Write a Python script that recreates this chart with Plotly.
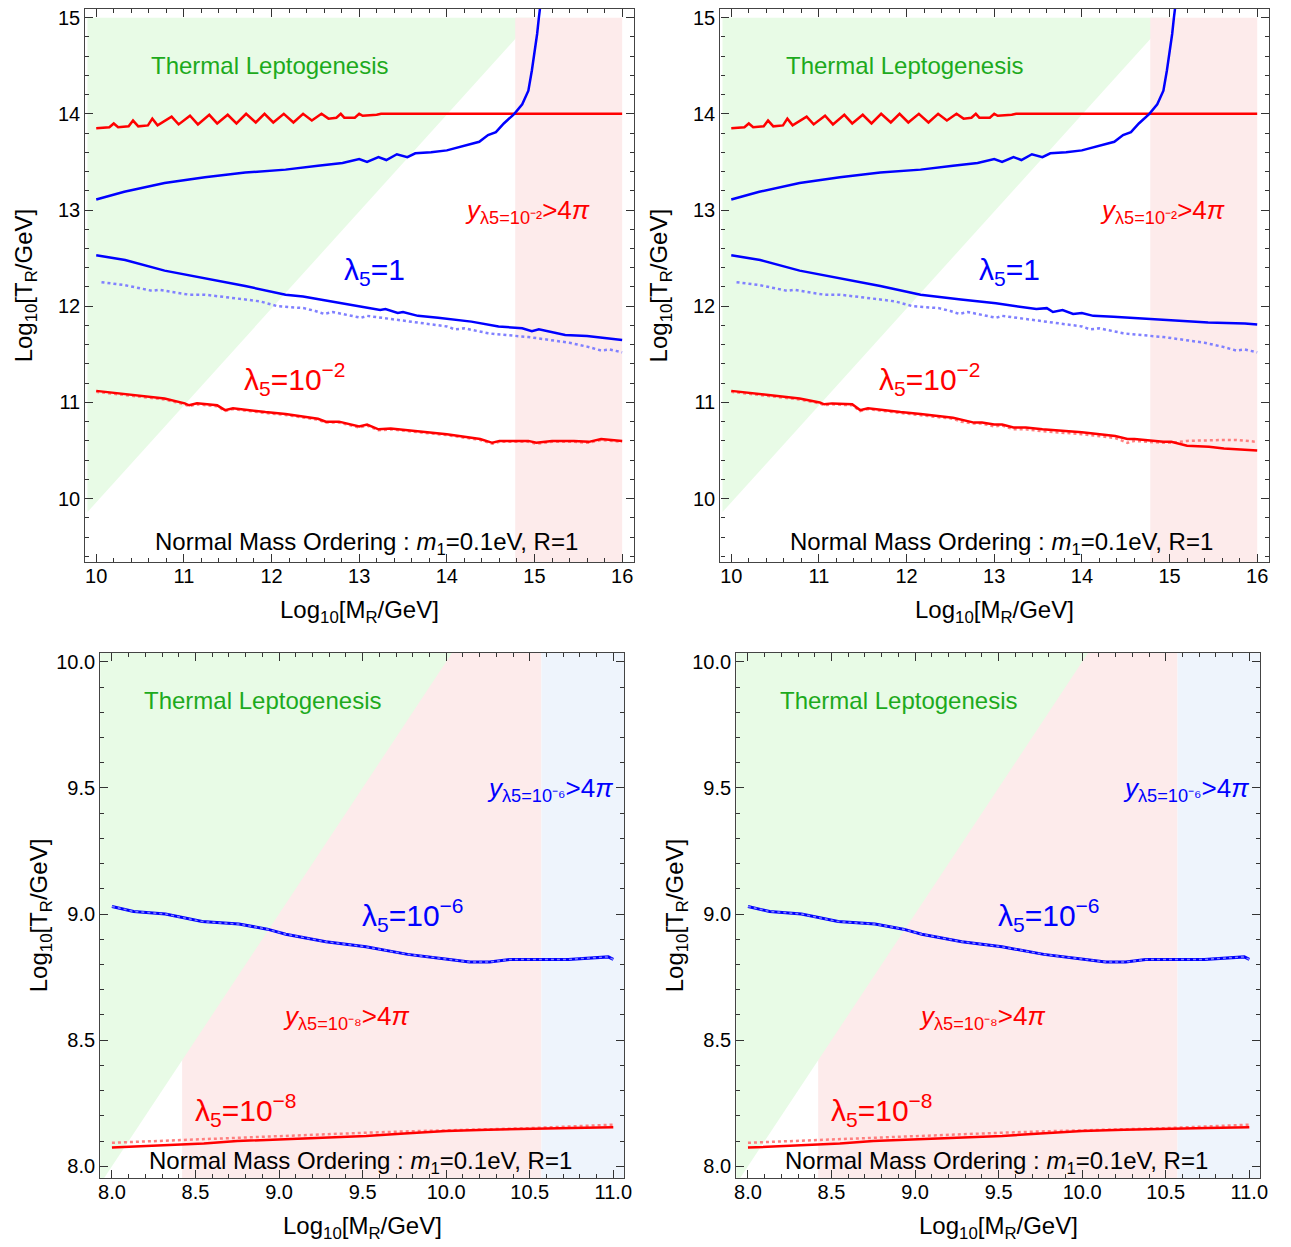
import plotly.graph_objects as go

# ---------------- DATA ----------------
# Top panels (M_R in 10..16)
top_red_upper_x = [10.0, 10.15, 10.2, 10.25, 10.37, 10.42, 10.48, 10.59, 10.64, 10.7, 10.86, 10.94, 11.07, 11.16,
                   11.29, 11.38, 11.5, 11.6, 11.71, 11.82, 11.92, 12.02, 12.14, 12.25, 12.36, 12.46, 12.57, 12.65,
                   12.74, 12.79, 12.83, 12.95, 13.0, 13.04, 13.2, 13.25, 13.5, 14.0, 14.5, 15.0, 15.5, 16.0]
top_red_upper_y = [13.85, 13.86, 13.9, 13.86, 13.87, 13.93, 13.87, 13.88, 13.95, 13.88, 13.97, 13.89, 13.98, 13.89,
                   13.99, 13.9, 13.99, 13.9, 14.0, 13.91, 14.0, 13.91, 14.0, 13.91, 14.0, 13.93, 14.0, 13.95,
                   13.96, 14.0, 13.96, 13.96, 14.0, 13.98, 13.99, 14.0, 14.0, 14.0, 14.0, 14.0, 14.0, 14.0]

top_blue_upper_x = [10.0, 10.32, 10.78, 11.24, 11.7, 12.16, 12.53, 12.81, 13.0, 13.09, 13.22, 13.31, 13.43, 13.55,
                    13.64, 13.82, 14.0, 14.19, 14.37, 14.47, 14.56, 14.65, 14.77, 14.86, 14.93, 14.97, 15.01,
                    15.03, 15.05, 15.07]
top_blue_upper_y = [13.11, 13.19, 13.28, 13.34, 13.39, 13.42, 13.46, 13.49, 13.53, 13.5, 13.55, 13.52, 13.58, 13.55,
                    13.59, 13.6, 13.62, 13.67, 13.71, 13.78, 13.81, 13.9, 14.0, 14.1, 14.24, 14.45, 14.69,
                    14.83, 15.0, 15.15]

lam1_x_left = [10.0, 10.33, 10.78, 11.24, 11.7, 12.16, 12.36, 12.62, 13.0, 13.09, 13.24, 13.3, 13.44, 13.5, 13.67,
               13.9, 14.28, 14.59, 14.86, 14.97, 15.05, 15.35, 15.6, 16.0]
lam1_y_left = [12.53, 12.48, 12.37, 12.29, 12.21, 12.12, 12.1, 12.06, 12.0, 11.98, 11.96, 11.97, 11.93, 11.94,
               11.9, 11.88, 11.84, 11.79, 11.77, 11.74, 11.76, 11.7, 11.69, 11.65]
lam1_x_right = [10.0, 10.33, 10.78, 11.24, 11.7, 12.16, 12.37, 12.62, 13.02, 13.25, 13.48, 13.6, 13.67, 13.78,
                13.9, 14.0, 14.13, 14.36, 14.55, 14.94, 15.44, 15.86, 16.0]
lam1_y_right = [12.53, 12.48, 12.37, 12.29, 12.21, 12.12, 12.1, 12.07, 12.03, 12.0, 11.97, 11.98, 11.94, 11.96,
                11.92, 11.93, 11.9, 11.89, 11.88, 11.86, 11.83, 11.82, 11.81]

lam1_dot_x = [10.06, 10.32, 10.64, 10.72, 11.06, 11.24, 11.7, 11.87, 12.07, 12.37, 12.5, 12.6, 12.7, 13.02, 13.09,
              13.56, 14.0, 14.09, 14.2, 14.47, 14.55, 14.93, 15.4, 15.6, 15.76, 15.86, 16.0]
lam1_dot_y = [12.25, 12.22, 12.16, 12.17, 12.12, 12.12, 12.07, 12.05, 12.0, 11.98, 11.95, 11.92, 11.94, 11.88,
              11.9, 11.84, 11.79, 11.76, 11.77, 11.72, 11.71, 11.68, 11.62, 11.58, 11.54, 11.55, 11.52]

lam2_x = [10.0, 10.32, 10.78, 11.01, 11.06, 11.15, 11.38, 11.47, 11.56, 11.93, 12.16, 12.53, 12.62, 12.77, 12.86,
          13.0, 13.09, 13.22, 13.36, 13.55, 14.0, 14.38, 14.52, 14.6, 14.93, 15.02, 15.2, 15.45, 15.62, 15.76, 16.0]
lam2_y_left = [11.12, 11.09, 11.04, 10.99, 10.97, 10.99, 10.97, 10.92, 10.94, 10.9, 10.88, 10.83, 10.8, 10.8,
               10.78, 10.75, 10.77, 10.72, 10.73, 10.71, 10.67, 10.62, 10.58, 10.6, 10.6, 10.58, 10.6, 10.6,
               10.59, 10.62, 10.6]
lam2_dot_y_left = [11.11, 11.08, 11.03, 10.98, 10.96, 10.98, 10.96, 10.91, 10.93, 10.89, 10.87, 10.82, 10.79,
                   10.79, 10.77, 10.74, 10.76, 10.71, 10.72, 10.7, 10.66, 10.61, 10.57, 10.59, 10.59, 10.57,
                   10.59, 10.59, 10.58, 10.61, 10.59]
lam2_y_right = [11.12, 11.09, 11.04, 11.0, 10.98, 10.99, 10.98, 10.92, 10.94, 10.9, 10.88, 10.84, 10.82, 10.79,
                10.79, 10.77, 10.77, 10.74, 10.74, 10.72, 10.69, 10.65, 10.62, 10.62, 10.59, 10.59, 10.55,
                10.54, 10.52, 10.51, 10.5]
lam2_dot_y_right = [11.11, 11.08, 11.03, 10.99, 10.97, 10.98, 10.97, 10.91, 10.93, 10.89, 10.87, 10.83, 10.8,
                    10.78, 10.78, 10.75, 10.76, 10.72, 10.72, 10.7, 10.67, 10.63, 10.58, 10.6, 10.58, 10.58,
                    10.6, 10.61, 10.61, 10.61, 10.59]

# Bottom panels (M_R in 8..11)
lam6_x = [8.0, 8.13, 8.32, 8.54, 8.76, 8.93, 9.04, 9.28, 9.52, 9.77, 10.02, 10.14, 10.26, 10.38, 10.5, 10.73,
          10.97, 11.0]
lam6_y = [9.03, 9.01, 9.0, 8.97, 8.96, 8.94, 8.92, 8.89, 8.87, 8.84, 8.82, 8.81, 8.81, 8.82, 8.82, 8.82, 8.83, 8.82]

lam8_x = [8.0, 8.25, 8.55, 8.75, 9.04, 9.25, 9.52, 9.75, 10.0, 10.25, 10.5, 10.75, 11.0]
lam8_y = [8.074, 8.082, 8.09, 8.1, 8.107, 8.113, 8.12, 8.13, 8.14, 8.145, 8.15, 8.152, 8.155]
lam8_dot_y = [8.093, 8.1, 8.107, 8.113, 8.12, 8.127, 8.133, 8.138, 8.142, 8.147, 8.151, 8.158, 8.165]

top_xticks = [10, 11, 12, 13, 14, 15, 16]
top_yticks = [10, 11, 12, 13, 14, 15]
bot_xticks = [8.0, 8.5, 9.0, 9.5, 10.0, 10.5, 11.0]
bot_yticks = [8.0, 8.5, 9.0, 9.5, 10.0]

# ---------------- STYLE ----------------
W, H = 1291, 1247
RED, BLUE = "#FF0000", "#0000FF"
LRED, LBLUE = "#FF8080", "#8080FF"
GREEN_FILL, PINK_FILL, BLUE_FILL = "#E8FBE6", "#FDEBEB", "#EEF4FC"
GREEN_TXT = "#1DAA1D"
FONT = "Liberation Sans"

def px_x(p):
    return p / W

def px_y(p):
    return 1 - p / H

panels = {
    1: dict(x=(84, 637), y=(7, 561), xr=(9.876, 16.136), yr=(9.34, 15.09), top=True),
    2: dict(x=(724, 1277), y=(7, 561), xr=(9.876, 16.136), yr=(9.34, 15.09), top=True),
    3: dict(x=(99, 627), y=(652, 1178), xr=(7.93, 11.065), yr=(7.953, 10.035), top=False),
    4: dict(x=(740, 1268), y=(652, 1178), xr=(7.93, 11.065), yr=(7.953, 10.035), top=False),
}

fig = go.Figure()


def add_line(k, x, y, color, width, dash="solid"):
    xa = "x" if k == 1 else f"x{k}"
    ya = "y" if k == 1 else f"y{k}"
    fig.add_trace(go.Scatter(x=x, y=y, mode="lines", xaxis=xa, yaxis=ya,
                             line=dict(color=color, width=width, dash=dash), showlegend=False,
                             hoverinfo="skip"))


def add_fill(k, x, y, color):
    xa = "x" if k == 1 else f"x{k}"
    ya = "y" if k == 1 else f"y{k}"
    fig.add_trace(go.Scatter(x=x, y=y, mode="lines", fill="toself", fillcolor=color, xaxis=xa, yaxis=ya,
                             line=dict(width=0, color=color), showlegend=False, hoverinfo="skip"))


annotations = []


def add_text(k, x, y, text, color, size):
    xa = "x" if k == 1 else f"x{k}"
    ya = "y" if k == 1 else f"y{k}"
    annotations.append(dict(x=x, y=y, xref=xa, yref=ya, text=text, showarrow=False,
                            xanchor="center", yanchor="middle",
                            font=dict(color=color, size=size, family=FONT)))


TXT = 24
LAM = 30
for k, p in panels.items():
    if p["top"]:
        # thermal leptogenesis (T_R > M_R) then perturbativity bound
        add_fill(k, [9.9, 15.0, 9.9, 9.9], [9.86, 15.0, 15.0, 9.86], GREEN_FILL)
        add_fill(k, [14.78, 16.0, 16.0, 14.78, 14.78], [9.2, 9.2, 15.0, 15.0, 9.2], PINK_FILL)
        add_line(k, top_red_upper_x, top_red_upper_y, RED, 2.5)
        add_line(k, top_blue_upper_x, top_blue_upper_y, BLUE, 2.5)
        if k == 1:
            add_line(k, lam1_dot_x, lam1_dot_y, LBLUE, 2.5, "dot")
            add_line(k, lam1_x_left, lam1_y_left, BLUE, 2.5)
            add_line(k, lam2_x, lam2_dot_y_left, LRED, 2.5, "dot")
            add_line(k, lam2_x, lam2_y_left, RED, 2.5)
        else:
            add_line(k, lam1_dot_x, lam1_dot_y, LBLUE, 2.5, "dot")
            add_line(k, lam1_x_right, lam1_y_right, BLUE, 2.5)
            add_line(k, lam2_x, lam2_dot_y_right, LRED, 2.5, "dot")
            add_line(k, lam2_x, lam2_y_right, RED, 2.5)
        add_text(k, 11.98, 14.5, "Thermal Leptogenesis", GREEN_TXT, TXT)
        add_text(k, 14.92, 12.98, "<i>y</i><sub>λ5=10⁻²</sub>>4<i>π</i>", RED, 26)
        add_text(k, 13.17, 12.36, "λ<sub>5</sub>=1", BLUE, LAM)
        add_text(k, 12.27, 11.24, "λ<sub>5</sub>=10<sup>−2</sup>", RED, LAM)
        add_text(k, 13.08, 9.53, "Normal Mass Ordering : <i>m</i><sub>1</sub>=0.1eV, R=1", "black", TXT)
    else:
        add_fill(k, [8.42, 10.57, 10.57, 8.42, 8.42], [7.9, 7.9, 10.1, 10.1, 7.9], PINK_FILL)
        add_fill(k, [7.9, 10.1, 7.9, 7.9], [7.9, 10.1, 10.1, 7.9], GREEN_FILL)
        add_fill(k, [10.57, 11.2, 11.2, 10.57, 10.57], [7.9, 7.9, 10.1, 10.1, 7.9], BLUE_FILL)
        add_line(k, lam6_x, lam6_y, BLUE, 3)
        add_line(k, lam6_x, lam6_y, LBLUE, 1.5, "dot")
        add_line(k, lam8_x, lam8_dot_y, LRED, 2.5, "dot")
        add_line(k, lam8_x, lam8_y, RED, 2.5)
        add_text(k, 8.9, 9.845, "Thermal Leptogenesis", GREEN_TXT, TXT)
        add_text(k, 10.62, 9.495, "<i>y</i><sub>λ5=10⁻⁶</sub>>4<i>π</i>", BLUE, 26)
        add_text(k, 9.8, 8.995, "λ<sub>5</sub>=10<sup>−6</sup>", BLUE, LAM)
        add_text(k, 9.4, 8.59, "<i>y</i><sub>λ5=10⁻⁸</sub>>4<i>π</i>", RED, 26)
        add_text(k, 8.8, 8.225, "λ<sub>5</sub>=10<sup>−8</sup>", RED, LAM)
        add_text(k, 9.49, 8.015, "Normal Mass Ordering : <i>m</i><sub>1</sub>=0.1eV, R=1", "black", TXT)

    # axis titles as paper annotations
    cx = (p["x"][0] + p["x"][1]) / 2
    cy = (p["y"][0] + p["y"][1]) / 2
    annotations.append(dict(x=px_x(cx), y=px_y(p["y"][1] + 49), xref="paper", yref="paper",
                            xanchor="center", yanchor="middle",
                            text="Log<sub>10</sub>[M<sub>R</sub>/GeV]", showarrow=False,
                            font=dict(size=24, family=FONT, color="black")))
    annotations.append(dict(x=px_x(p["x"][0] - 60), y=px_y(cy), xref="paper", yref="paper",
                            xanchor="center", yanchor="middle",
                            text="Log<sub>10</sub>[T<sub>R</sub>/GeV]", showarrow=False, textangle=-90,
                            font=dict(size=24, family=FONT, color="black")))

layout = dict(width=W, height=H, margin=dict(l=0, r=0, t=0, b=0), paper_bgcolor="white",
              plot_bgcolor="white", annotations=annotations, showlegend=False)

for k, p in panels.items():
    xn = "xaxis" if k == 1 else f"xaxis{k}"
    yn = "yaxis" if k == 1 else f"yaxis{k}"
    xa_id = "x" if k == 1 else f"x{k}"
    ya_id = "y" if k == 1 else f"y{k}"
    if p["top"]:
        xt, yt, xm, ym = top_xticks, top_yticks, 0.2, 0.2
        xtext = [str(v) for v in xt]
        ytext = [str(v) for v in yt]
    else:
        xt, yt, xm, ym = bot_xticks, bot_yticks, 0.1, 0.1
        xtext = [f"{v:.1f}" for v in xt]
        ytext = [f"{v:.1f}" for v in yt]
    common = dict(showgrid=False, zeroline=False, showline=True, linecolor="#444444", linewidth=1.3,
                  mirror="ticks", ticks="inside", ticklen=8, tickwidth=1.2, tickcolor="#333333",
                  tickfont=dict(size=20, family=FONT, color="black"))
    layout[xn] = dict(common, domain=[px_x(p["x"][0]), px_x(p["x"][1])], range=list(p["xr"]),
                      anchor=ya_id, tickvals=xt, ticktext=xtext, ticklabelstandoff=-4,
                      minor=dict(ticks="inside", ticklen=4, dtick=xm, tick0=xt[0], tickcolor="#333333",
                                 showgrid=False))
    layout[yn] = dict(common, domain=[px_y(p["y"][1]), px_y(p["y"][0])], range=list(p["yr"]),
                      anchor=xa_id, tickvals=yt, ticktext=ytext,
                      minor=dict(ticks="inside", ticklen=4, dtick=ym, tick0=yt[0], tickcolor="#333333",
                                 showgrid=False))

fig.update_layout(**layout)
fig.write_html("out.html")
